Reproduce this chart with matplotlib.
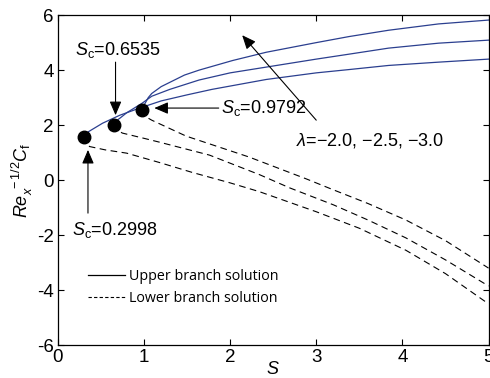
import numpy as np
import matplotlib
matplotlib.use("Agg")
import matplotlib.pyplot as plt

plt.rcParams["font.family"] = "Liberation Sans"
plt.rcParams["mathtext.fontset"] = "custom"
plt.rcParams["mathtext.rm"] = "Liberation Sans"
plt.rcParams["mathtext.it"] = "Liberation Sans:italic"

# critical points (turning points) for lambda = -2.0, -2.5, -3.0
s_crit = [0.2998, 0.6535, 0.9792]
f_crit = [1.56, 2.02, 2.55]

# upper branch (solid)
up1_s = [0.2998, 0.35, 0.52, 0.72, 0.95, 1.2, 1.5, 1.79, 2.42, 3.0, 3.38, 3.84, 4.42, 5.0]
up1_f = [1.56, 1.75, 2.07, 2.36, 2.62, 2.88, 3.1, 3.3, 3.66, 3.9, 4.02, 4.17, 4.29, 4.4]
up2_s = [0.6535, 0.68, 0.72, 0.80, 0.98, 1.09, 1.3, 1.64, 2.0, 2.42, 3.0, 3.38, 3.84, 4.42, 5.0]
up2_f = [2.02, 2.16, 2.25, 2.45, 2.8, 3.05, 3.3, 3.64, 3.9, 4.11, 4.4, 4.58, 4.8, 4.98, 5.09]
up3_s = [0.9792, 1.0, 1.05, 1.09, 1.2, 1.47, 1.64, 2.03, 2.42, 3.0, 3.38, 3.84, 4.42, 5.0]
up3_f = [2.55, 2.72, 3.0, 3.15, 3.4, 3.82, 4.0, 4.35, 4.65, 5.0, 5.22, 5.45, 5.68, 5.82]

# lower branch (dashed)
lo1_s = [0.2998, 0.31, 0.37, 0.55, 0.8, 1.18, 1.56, 2.0, 2.34, 3.0, 3.5, 4.04, 4.5, 5.0]
lo1_f = [1.56, 1.36, 1.22, 1.1, 0.98, 0.64, 0.28, -0.1, -0.42, -1.15, -1.75, -2.55, -3.4, -4.5]
lo2_s = [0.6535, 0.67, 0.75, 1.0, 1.18, 1.76, 2.34, 2.69, 3.2, 3.6, 4.04, 4.5, 5.0]
lo2_f = [2.02, 1.85, 1.71, 1.52, 1.38, 0.91, 0.2, -0.28, -0.9, -1.45, -2.1, -2.9, -3.85]
lo3_s = [0.9792, 0.99, 1.04, 1.09, 1.49, 2.22, 2.88, 3.18, 3.6, 4.04, 4.5, 5.0]
lo3_f = [2.55, 2.4, 2.27, 2.18, 1.6, 0.84, 0.05, -0.33, -0.85, -1.45, -2.2, -3.2]

blue = "#2b3f8f"

fig = plt.figure(figsize=(4.9, 3.78), dpi=100)
ax = fig.add_axes([0.118, 0.087, 0.879, 0.873])

for s, f in [(up1_s, up1_f), (up2_s, up2_f), (up3_s, up3_f)]:
    ax.plot(s, f, color=blue, lw=0.9)
for s, f in [(lo1_s, lo1_f), (lo2_s, lo2_f), (lo3_s, lo3_f)]:
    ax.plot(s, f, color="black", lw=0.8, dashes=(6, 4))
ax.plot(s_crit, f_crit, "o", color="black", ms=9, zorder=5)

# key for the two branch types
ax.plot([], [], color="black", lw=0.9, label="Upper branch solution")
ax.plot([], [], color="black", lw=0.8, dashes=(3, 2), label="Lower branch solution")
handles, labels = ax.get_legend_handles_labels()
ax.legend(handles[-2:], labels[-2:], loc="lower left", bbox_to_anchor=(0.04, 0.08),
          frameon=False, prop={"family": "Open Sans", "size": 10.3},
          handlelength=2.6, handletextpad=0.25, labelspacing=0.5)

arrow = dict(arrowstyle="-|>,head_length=0.7,head_width=0.3", color="black", lw=0.8,
             shrinkA=0, shrinkB=0, mutation_scale=12)
ax.text(0.2, 4.73, r"$S_{\rm c}$=0.6535", fontsize=13, ha="left", va="center")
ax.annotate("", xy=(0.67, 2.36), xytext=(0.67, 4.29), arrowprops=arrow)
ax.annotate(r"$S_{\rm c}$=0.9792", xy=(1.12, 2.62), xytext=(1.9, 2.62),
            ha="left", va="center", fontsize=13, arrowprops=arrow)
ax.text(0.16, -1.82, r"$S_{\rm c}$=0.2998", fontsize=13, ha="left", va="center")
ax.annotate("", xy=(0.35, 1.1), xytext=(0.35, -1.2), arrowprops=arrow)
ax.annotate("", xy=(2.14, 5.27), xytext=(3.0, 2.18), arrowprops=arrow)
ax.text(2.77, 1.45, r"$\lambda$" + "=\u22122.0, \u22122.5, \u22123.0", fontsize=13,
        ha="left", va="center")

ax.set_xlim(0, 5)
ax.set_ylim(-6, 6)
ax.set_xticks(range(0, 6))
ax.set_yticks(range(-6, 7, 2))
ax.set_yticklabels([str(v) for v in range(-6, 7, 2)])
ax.tick_params(direction="in", top=True, right=True, labelsize=13.5, length=4, width=0.8, pad=3)
for sp in ax.spines.values():
    sp.set_linewidth(0.9)
ax.set_xlabel(r"$S$", fontsize=13, labelpad=-4)
ax.set_ylabel(r"$Re_x^{\ -1/2}C_{\rm f}$", fontsize=13, labelpad=1)

fig.savefig("out.png", dpi=100)
